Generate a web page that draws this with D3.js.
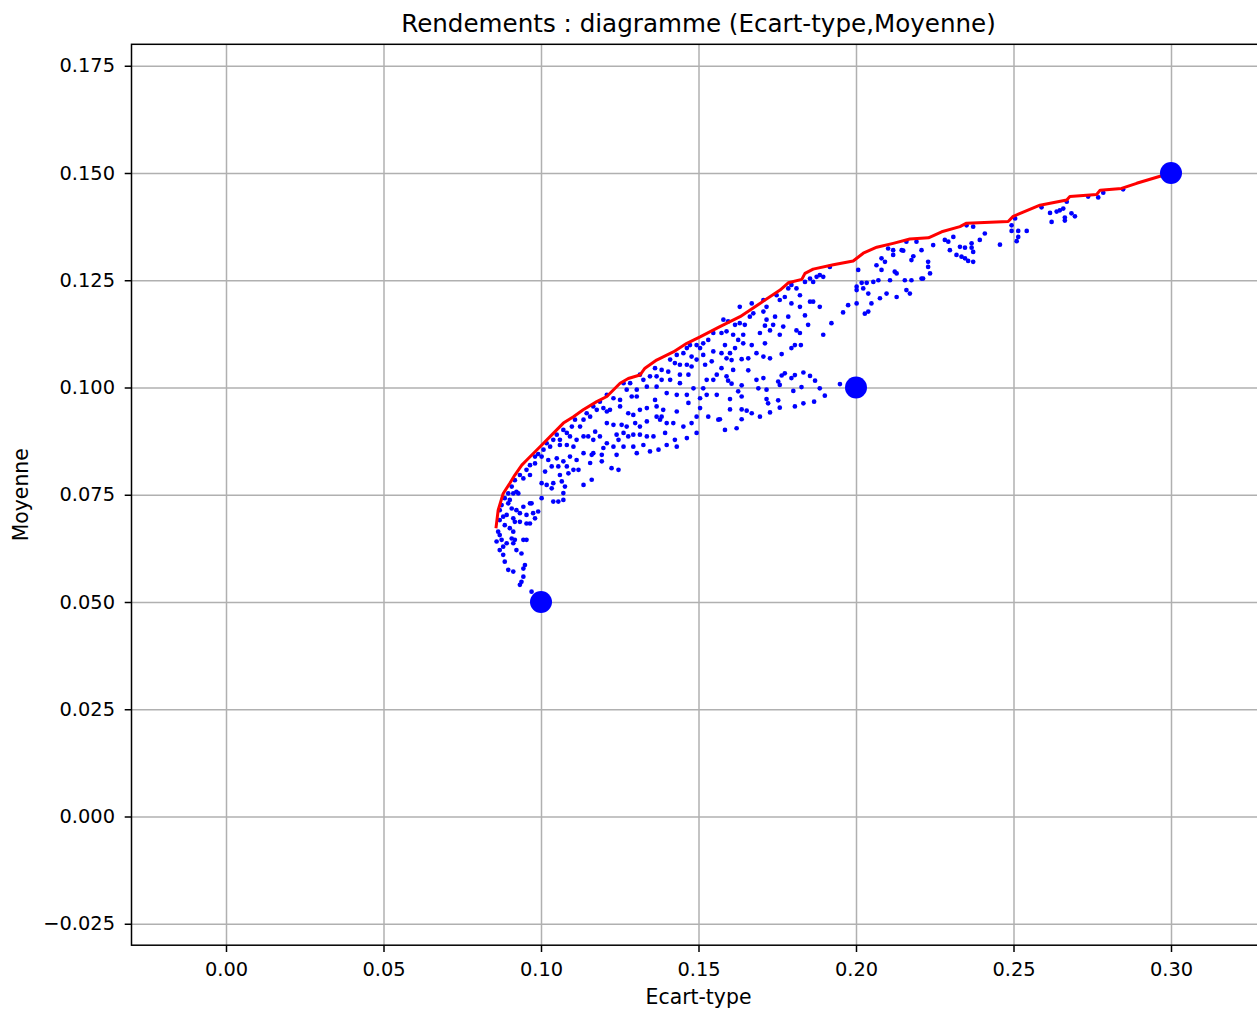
<!DOCTYPE html>
<html>
<head>
<meta charset="utf-8">
<script src="https://cdn.jsdelivr.net/npm/d3@7"></script>
<style>
  html, body { margin: 0; padding: 0; background: #fff; }
  svg { display: block; font-family: "DejaVu Sans", sans-serif; }
</style>
</head>
<body>
<svg width="1257" height="1009"></svg>
<script>
"use strict";

// random portfolios: [ecart-type, moyenne]
const portfolios = [
  [0.1959,0.1175],[0.2028,0.1172],[0.2039,0.1177],[0.1922,0.1150],[0.1848,0.1146],[0.1838,0.1168],[0.1785,0.1165],[0.1769,0.1142],
  [0.1737,0.1146],[0.1711,0.1144],[0.1695,0.1127],[0.1727,0.1133],[0.1758,0.1123],[0.1811,0.1133],[0.1822,0.1127],[0.1896,0.1123],
  [0.1669,0.1099],[0.1711,0.1103],[0.1764,0.1078],[0.1795,0.1092],[0.1806,0.1099],[0.1825,0.1099],[0.1626,0.1111],[0.1642,0.1103],
  [0.1616,0.1092],[0.1600,0.1080],[0.1684,0.1080],[0.1706,0.1072],[0.1727,0.1068],[0.1637,0.1066],[0.1658,0.1068],[0.1573,0.1080],
  [0.1589,0.1068],[0.1605,0.1064],[0.1573,0.1045],[0.1610,0.1041],[0.1658,0.1040],[0.1684,0.1018],[0.1706,0.1022],[0.1589,0.1026],
  [0.1594,0.1016],[0.1605,0.1009],[0.1637,0.1005],[0.1690,0.0998],[0.1716,0.0995],[0.1753,0.1014],[0.1758,0.1006],[0.1764,0.1028],
  [0.1774,0.1033],[0.1795,0.1022],[0.1806,0.1029],[0.1833,0.1035],[0.1854,0.1027],[0.1870,0.1016],[0.1885,0.0998],[0.1901,0.0981],
  [0.1949,0.1008],[0.1801,0.0992],[0.1827,0.1001],[0.1626,0.0991],[0.1637,0.0979],[0.1600,0.0973],[0.1716,0.0973],[0.1721,0.0963],
  [0.1753,0.0970],[0.1758,0.0953],[0.1806,0.0956],[0.1833,0.0963],[0.1867,0.0967],[0.1600,0.0949],[0.1637,0.0949],[0.1653,0.0946],
  [0.1669,0.0940],[0.1695,0.0932],[0.1727,0.0942],[0.1637,0.0926],[0.1568,0.0926],[0.1584,0.0901],[0.1621,0.0905],
  [0.1579,0.1158],[0.1594,0.1154],[0.1616,0.1146],[0.1631,0.1150],[0.1647,0.1146],[0.1663,0.1165],[0.1674,0.1173],[0.1589,0.1131],
  [0.1610,0.1123],[0.1584,0.1099],[0.1573,0.1127],[0.1642,0.1123],[0.1716,0.1158],[0.1743,0.1165],[0.1706,0.1177],
  [0.1631,0.1188],[0.1669,0.1196],[0.1706,0.1204],[0.1716,0.1188],[0.1748,0.1215],[0.1758,0.1204],[0.1774,0.1211],[0.1785,0.1231],
  [0.1795,0.1239],[0.1811,0.1231],[0.1822,0.1215],[0.1795,0.1196],[0.1822,0.1188],[0.1854,0.1200],[0.1864,0.1200],[0.1885,0.1188],
  [0.1838,0.1246],[0.1854,0.1254],[0.1875,0.1258],[0.1885,0.1262],[0.1896,0.1258],[0.1864,0.1246],[0.1917,0.1281],[0.1975,0.1192],
  [0.2002,0.1196],[0.2002,0.1235],[0.2002,0.1227],[0.2007,0.1274],[0.2018,0.1244],[0.2034,0.1244],[0.2039,0.1219],[0.2023,0.1231],
  [0.2055,0.1246],[0.2071,0.1250],[0.2065,0.1285],[0.2081,0.1274],[0.2081,0.1301],[0.2076,0.1208],[0.2097,0.1219],[0.2108,0.1250],
  [0.2123,0.1270],[0.2129,0.1266],[0.2118,0.1309],[0.2102,0.1324],[0.2118,0.1320],[0.2145,0.1320],[0.2150,0.1319],[0.2155,0.1250],
  [0.2160,0.1227],[0.2171,0.1219],[0.2176,0.1250],[0.2176,0.1297],[0.2182,0.1306],[0.2208,0.1320],[0.2208,0.1254],[0.2213,0.1254],
  [0.2229,0.1293],[0.2229,0.1281],[0.2235,0.1266],[0.2245,0.1332],[0.2282,0.1344],[0.2293,0.1340],[0.2298,0.1320],[0.2309,0.1351],
  [0.2319,0.1309],[0.2049,0.1196],[0.2129,0.1211],[0.2192,0.1340],[0.2160,0.1340],[0.2092,0.1293],
  [0.2330,0.1328],[0.2346,0.1326],[0.2335,0.1305],[0.2346,0.1301],[0.2356,0.1295],[0.2372,0.1293],[0.2367,0.1336],[0.2367,0.1326],
  [0.2372,0.1316],[0.2393,0.1344],[0.2409,0.1359],[0.2372,0.1375],[0.2351,0.1378],[0.2457,0.1333],[0.2494,0.1378],[0.2494,0.1365],
  [0.2515,0.1365],[0.2515,0.1351],[0.2510,0.1341],[0.2542,0.1365],[0.2505,0.1394],[0.2589,0.1420],[0.2616,0.1407],[0.2621,0.1386],
  [0.2637,0.1410],[0.2647,0.1413],[0.2658,0.1417],[0.2663,0.1396],[0.2663,0.1389],[0.2684,0.1406],[0.2695,0.1399],[0.2669,0.1433],
  [0.2737,0.1445],[0.2769,0.1443],[0.2785,0.1454],[0.2848,0.1462],
  [0.1547,0.1127],[0.1531,0.1111],[0.1515,0.1103],[0.1494,0.1099],[0.1505,0.1092],[0.1473,0.1099],[0.1463,0.1092],[0.1547,0.1084],
  [0.1431,0.1076],[0.1452,0.1080],[0.1478,0.1072],[0.1494,0.1065],[0.1515,0.1076],[0.1521,0.1053],[0.1542,0.1061],[0.1410,0.1065],
  [0.1425,0.1057],[0.1404,0.1037],[0.1441,0.1053],[0.1463,0.1053],[0.1478,0.1049],[0.1383,0.1041],[0.1362,0.1045],[0.1346,0.1026],
  [0.1325,0.1018],[0.1314,0.1030],[0.1367,0.1026],[0.1383,0.1018],[0.1410,0.1018],[0.1441,0.1030],[0.1468,0.1030],[0.1441,0.1010],
  [0.1484,0.0998],[0.1515,0.0998],[0.1526,0.1018],[0.1547,0.1018],[0.1558,0.1030],[0.1526,0.0983],[0.1558,0.0983],[0.1505,0.0975],
  [0.1463,0.0983],[0.1431,0.0983],[0.1399,0.0987],[0.1367,0.1002],[0.1336,0.1002],[0.1304,0.0995],[0.1272,0.0995],[0.1262,0.1010],
  [0.1283,0.1010],[0.1304,0.0979],[0.1288,0.0979],[0.1251,0.0971],[0.1230,0.0975],[0.1209,0.0983],[0.1187,0.0967],[0.1177,0.0948],
  [0.1166,0.0956],[0.1209,0.0944],[0.1198,0.0952],[0.1219,0.0948],[0.1251,0.0956],[0.1277,0.0940],[0.1293,0.0936],[0.1314,0.0948],
  [0.1336,0.0952],[0.1362,0.0971],[0.1367,0.0956],[0.1388,0.0948],[0.1383,0.0932],[0.1367,0.0932],[0.1431,0.0944],[0.1468,0.0964],
  [0.1505,0.0952],[0.1494,0.0932],[0.1531,0.0932],[0.1563,0.0925],[0.1478,0.0917],[0.1452,0.0909],[0.1420,0.0917],[0.1399,0.0917],
  [0.1378,0.0925],[0.1336,0.0921],[0.1314,0.0909],[0.1299,0.0917],[0.1272,0.0909],[0.1256,0.0913],[0.1230,0.0913],[0.1209,0.0917],
  [0.1156,0.0932],[0.1145,0.0940],[0.1135,0.0925],[0.1108,0.0925],[0.1098,0.0909],[0.1124,0.0909],[0.1082,0.0894],[0.1071,0.0901],
  [0.1050,0.0890],[0.1039,0.0878],[0.1060,0.0878],[0.1092,0.0886],[0.1113,0.0878],[0.1135,0.0886],[0.1150,0.0886],[0.1172,0.0897],
  [0.1166,0.0878],[0.1187,0.0886],[0.1209,0.0870],[0.1240,0.0890],[0.1262,0.0894],[0.1277,0.0886],[0.1246,0.0878],[0.1262,0.0862],
  [0.1293,0.0890],[0.1314,0.0890],[0.1336,0.0886],[0.1357,0.0886],[0.1394,0.0894],[0.1494,0.0894],[0.1463,0.0882],[0.1425,0.0878],
  [0.1431,0.0862],[0.1399,0.0866],[0.1373,0.0855],[0.1346,0.0851],[0.1325,0.0866],[0.1304,0.0847],[0.1293,0.0862],[0.1230,0.0862],
  [0.1198,0.0859],[0.1166,0.0847],[0.1135,0.0847],[0.1103,0.0862],[0.1082,0.0866],[0.1060,0.0866],[0.1029,0.0862],[0.1008,0.0855],
  [0.1018,0.0870],[0.1002,0.0839],[0.1023,0.0831],[0.1050,0.0835],[0.1071,0.0828],[0.1092,0.0839],[0.1113,0.0831],[0.1119,0.0808],
  [0.1103,0.0808],[0.1082,0.0816],[0.1055,0.0816],[0.1034,0.0816],[0.1013,0.0804],[0.1060,0.0796],[0.1087,0.0800],[0.1156,0.0824],
  [0.1161,0.0843],[0.1193,0.0843],[0.1193,0.0828],[0.1224,0.0812],[0.1246,0.0808],[0.1240,0.0843],[0.1002,0.0777],[0.1018,0.0773],
  [0.1039,0.0777],[0.1066,0.0781],[0.1076,0.0769],[0.1034,0.0765],[0.1135,0.0773],[0.1161,0.0785],[0.1071,0.0754],[0.1039,0.0734],
  [0.1055,0.0734],[0.1071,0.0738],[0.1002,0.0742],[0.0981,0.0839],[0.0991,0.0845],
  [0.0965,0.0819],[0.0981,0.0823],[0.0954,0.0808],[0.0933,0.0796],[0.0944,0.0788],[0.0965,0.0796],[0.0917,0.0784],[0.0907,0.0769],
  [0.0922,0.0757],[0.0896,0.0753],[0.0912,0.0753],[0.0928,0.0753],[0.0885,0.0742],[0.0901,0.0738],[0.0896,0.0730],[0.0875,0.0726],
  [0.0869,0.0714],[0.0907,0.0718],[0.0922,0.0714],[0.0933,0.0707],[0.0944,0.0722],[0.0965,0.0730],[0.0954,0.0703],[0.0975,0.0707],
  [0.0991,0.0711],[0.0981,0.0695],[0.0970,0.0730],[0.0880,0.0699],[0.0891,0.0703],[0.0912,0.0695],[0.0917,0.0687],[0.0933,0.0687],
  [0.0954,0.0683],[0.0965,0.0683],[0.0869,0.0691],[0.0885,0.0679],[0.0901,0.0672],[0.0912,0.0664],[0.0864,0.0664],[0.0869,0.0656],
  [0.0859,0.0641],[0.0875,0.0645],[0.0880,0.0629],[0.0869,0.0621],[0.0880,0.0610],[0.0891,0.0637],[0.0907,0.0648],[0.0917,0.0645],
  [0.0912,0.0637],[0.0944,0.0645],[0.0954,0.0645],[0.0922,0.0621],[0.0938,0.0613],[0.0885,0.0594],[0.0896,0.0575],[0.0912,0.0571],
  [0.0949,0.0586],[0.0944,0.0578],[0.0944,0.0559],[0.0938,0.0547],[0.0933,0.0540],[0.0970,0.0524]
];

// efficient frontier (red line)
const frontierStd = [0.0857,0.0864,0.0880,0.0902,0.0917,0.0939,0.0955,0.0997,0.1039,0.1071,0.1103,0.1134,0.1177,0.1209,
  0.1251,0.1277,0.1314,0.1330,0.1367,0.1420,0.1463,0.1505,0.1568,0.1632,0.1695,0.1759,0.1785,0.1828,0.1838,0.1864,
  0.1928,0.1991,0.2023,0.2066,0.2118,0.2171,0.2230,0.2272,0.2330,0.2351,0.2483,0.2499,0.2584,0.2669,0.2679,0.2764,
  0.2775,0.2843,0.2891,0.3000];
const frontierMean = [0.0672,0.0714,0.0753,0.0778,0.0796,0.0819,0.0831,0.0862,0.0893,0.0917,0.0932,0.0948,0.0967,0.0979,
  0.1010,0.1021,0.1029,0.1045,0.1064,0.1083,0.1103,0.1118,0.1142,0.1165,0.1196,0.1227,0.1244,0.1252,0.1266,0.1276,
  0.1286,0.1295,0.1313,0.1327,0.1336,0.1346,0.1349,0.1363,0.1375,0.1383,0.1387,0.1399,0.1425,0.1437,0.1445,0.1450,
  0.1460,0.1464,0.1476,0.1500];

// the three assets
const assetStd = [0.10, 0.20, 0.30];
const assetMean = [0.05, 0.10, 0.15];

const xTicks = [0.00, 0.05, 0.10, 0.15, 0.20, 0.25, 0.30];
const yTicks = [-0.025, 0.000, 0.025, 0.050, 0.075, 0.100, 0.125, 0.150, 0.175];
const title = "Rendements : diagramme (Ecart-type,Moyenne)";
const xLabel = "Ecart-type";
const yLabel = "Moyenne";

const svg = d3.select("svg");
const plot = { left: 131.5, right: 1265.5, top: 44.3, bottom: 945.2 },
      fontSize = 19.4,
      labelSize = 20.4,
      titleSize = 24.6,
      tickLen = 6.8,
      gridColor = "#b0b0b0";

let scaleX = d3.scaleLinear().domain([-0.03, 0.33]).range([plot.left, plot.right]);
let scaleY = d3.scaleLinear().domain([-0.03, 0.18]).range([plot.bottom, plot.top]);

// grid
svg.append("g")
  .attr("class", "grid")
  .attr("transform", `translate(0, ${plot.bottom})`)
  .call(d3.axisBottom(scaleX).tickValues(xTicks).tickSize(-(plot.bottom - plot.top)).tickFormat(""));
svg.append("g")
  .attr("class", "grid")
  .attr("transform", `translate(${plot.left}, 0)`)
  .call(d3.axisLeft(scaleY).tickValues(yTicks).tickSize(-(plot.right - plot.left)).tickFormat(""));
svg.selectAll("g.grid line").attr("stroke", gridColor).attr("stroke-width", 1.5);
svg.selectAll("g.grid path.domain").remove();

// scatter of portfolios
svg.append("g")
  .selectAll("circle")
  .data(portfolios)
  .enter()
  .append("circle")
  .attr("cx", d => scaleX(d[0]))
  .attr("cy", d => scaleY(d[1]))
  .attr("r", 2.35)
  .attr("fill", "blue");

// frontier
svg.append("path")
  .datum(frontierStd.map((s, i) => [s, frontierMean[i]]))
  .attr("fill", "none")
  .attr("stroke", "red")
  .attr("stroke-width", 3)
  .attr("stroke-linejoin", "round")
  .attr("d", d3.line().x(d => scaleX(d[0])).y(d => scaleY(d[1])));

// assets
svg.append("g")
  .selectAll("circle")
  .data(assetStd)
  .enter()
  .append("circle")
  .attr("cx", d => scaleX(d))
  .attr("cy", (d, i) => scaleY(assetMean[i]))
  .attr("r", 11)
  .attr("fill", "blue");

// axes
let xAxis = svg.append("g")
  .attr("transform", `translate(0, ${plot.bottom})`)
  .call(d3.axisBottom(scaleX).tickValues(xTicks).tickSize(tickLen).tickSizeOuter(0).tickPadding(10.2)
    .tickFormat(d3.format(".2f")));
let yAxis = svg.append("g")
  .attr("transform", `translate(${plot.left}, 0)`)
  .call(d3.axisLeft(scaleY).tickValues(yTicks).tickSize(tickLen).tickSizeOuter(0).tickPadding(9.7)
    .tickFormat(d3.format(".3f")));
[xAxis, yAxis].forEach(a => {
  a.selectAll("text").attr("font-size", fontSize).attr("font-family", "DejaVu Sans").attr("fill", "#000");
  a.selectAll("line").attr("stroke", "#000").attr("stroke-width", 1.5);
  a.select("path.domain").remove();
});

// spines
svg.append("rect")
  .attr("x", plot.left)
  .attr("y", plot.top)
  .attr("width", plot.right - plot.left)
  .attr("height", plot.bottom - plot.top)
  .attr("fill", "none")
  .attr("stroke", "#000")
  .attr("stroke-width", 1.5);

// labels
svg.append("text")
  .text(title)
  .attr("x", (plot.left + plot.right) / 2)
  .attr("y", 32)
  .attr("text-anchor", "middle")
  .attr("font-size", titleSize);

svg.append("text")
  .text(xLabel)
  .attr("x", (plot.left + plot.right) / 2)
  .attr("y", 1004)
  .attr("text-anchor", "middle")
  .attr("font-size", labelSize);

svg.append("text")
  .text(yLabel)
  .attr("transform", `translate(28, ${(plot.top + plot.bottom) / 2}) rotate(-90)`)
  .attr("text-anchor", "middle")
  .attr("font-size", labelSize);
</script>
</body>
</html>
